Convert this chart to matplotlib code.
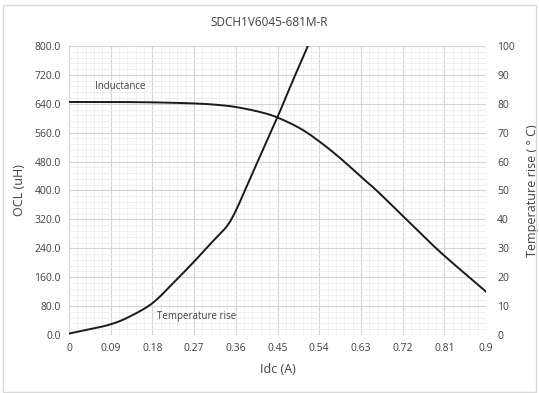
import matplotlib
matplotlib.use("Agg")
import numpy as np
import matplotlib.pyplot as plt
from matplotlib.ticker import AutoMinorLocator
from matplotlib.patches import Rectangle

title = "SDCH1V6045-681M-R"

# Inductance (left axis, uH)
ind_idc = [0.0, 0.09, 0.18, 0.27, 0.32, 0.36, 0.41, 0.45, 0.50, 0.54, 0.584, 0.63, 0.663, 0.72, 0.80, 0.9]
ind_val = [645, 645, 644, 641, 637, 631, 618, 602, 571, 536, 491, 438, 401, 330, 231, 120]

# Temperature rise (right axis, deg C)
temp_idc = [0.0, 0.045, 0.09, 0.13, 0.18, 0.225, 0.27, 0.305, 0.34, 0.36, 0.38, 0.415, 0.45, 0.4825, 0.5155]
temp_val = [0.5, 2.0, 3.7, 6.3, 11.0, 18.0, 25.4, 31.5, 37.5, 43.0, 50.2, 62.8, 75.4, 87.8, 100.0]

x_ticks = [0, 0.09, 0.18, 0.27, 0.36, 0.45, 0.54, 0.63, 0.72, 0.81, 0.9]
x_tick_labels = ["0", "0.09", "0.18", "0.27", "0.36", "0.45", "0.54", "0.63", "0.72", "0.81", "0.9"]
left_ticks = [0, 80, 160, 240, 320, 400, 480, 560, 640, 720, 800]
right_ticks = [0, 10, 20, 30, 40, 50, 60, 70, 80, 90, 100]


def smooth(xs, ys, n=20):
    """Catmull-Rom rendering through the read points (like Excel's smoothed line)."""
    x = np.asarray(xs, float)
    y = np.asarray(ys, float)
    px = np.concatenate([[2 * x[0] - x[1]], x, [2 * x[-1] - x[-2]]])
    py = np.concatenate([[2 * y[0] - y[1]], y, [2 * y[-1] - y[-2]]])
    ox, oy = [], []
    t = np.linspace(0, 1, n, endpoint=False)
    for i in range(1, len(px) - 2):
        for arr, out in ((px, ox), (py, oy)):
            p0, p1, p2, p3 = arr[i - 1], arr[i], arr[i + 1], arr[i + 2]
            m1 = (p2 - p0) / 2
            m2 = (p3 - p1) / 2
            h00 = 2 * t**3 - 3 * t**2 + 1
            h10 = t**3 - 2 * t**2 + t
            h01 = -2 * t**3 + 3 * t**2
            h11 = t**3 - t**2
            out.extend(h00 * p1 + h10 * m1 + h01 * p2 + h11 * m2)
    ox.append(x[-1])
    oy.append(y[-1])
    return ox, oy


txt = "#404040"
plt.rcParams["font.family"] = ["Open Sans", "DejaVu Sans"]

fig = plt.figure(figsize=(5.39, 3.93), dpi=100)
fig.patches.append(Rectangle((0.006, 0.003), 0.988, 0.985, transform=fig.transFigure,
                             fill=False, edgecolor="#d9d9d9", linewidth=1.0))

ax = fig.add_axes([0.128, 0.1476, 0.7737, 0.7354])
ax.set_xlim(0, 0.9)
ax.set_ylim(0, 800)
ax.set_xticks(x_ticks)
ax.set_xticklabels(x_tick_labels)
ax.set_yticks(left_ticks)
ax.set_yticklabels([f"{v:.1f}" for v in left_ticks])
ax.xaxis.set_minor_locator(AutoMinorLocator(5))
ax.yaxis.set_minor_locator(AutoMinorLocator(5))
ax.grid(which="major", color="#d4d4d4", linewidth=0.8)
ax.grid(which="minor", color="#ededed", linewidth=0.6)
ax.set_axisbelow(True)
for s in ax.spines.values():
    s.set_visible(False)
ax.tick_params(which="both", length=0, colors=txt, labelsize=7.5, pad=6)

ax2 = ax.twinx()
ax2.set_ylim(0, 100)
ax2.set_yticks(right_ticks)
for s in ax2.spines.values():
    s.set_visible(False)
ax2.tick_params(which="both", length=0, colors=txt, labelsize=7.5, pad=8)

sx, sy = smooth(ind_idc, ind_val)
ax.plot(sx, sy, color="#1a1a1a", linewidth=1.4)
tx, ty = smooth(temp_idc, temp_val)
ax2.plot(tx, ty, color="#1a1a1a", linewidth=1.4)

ax.text(0.056, 689, "Inductance", fontsize=7, color=txt, va="center", ha="left")
ax.text(0.19, 50, "Temperature rise", fontsize=7, color=txt, va="center", ha="left")

fig.text(0.5, 0.944, title, ha="center", va="center", fontsize=8.5, color=txt)
ax.set_xlabel("Idc (A)", fontsize=9, color=txt, labelpad=6)
ax.set_ylabel("OCL (uH)", fontsize=9, color=txt, labelpad=6)
ax2.set_ylabel("Temperature rise ( ° C)", fontsize=9, color=txt, labelpad=8, rotation=90)

fig.savefig("out.png", dpi=100)
